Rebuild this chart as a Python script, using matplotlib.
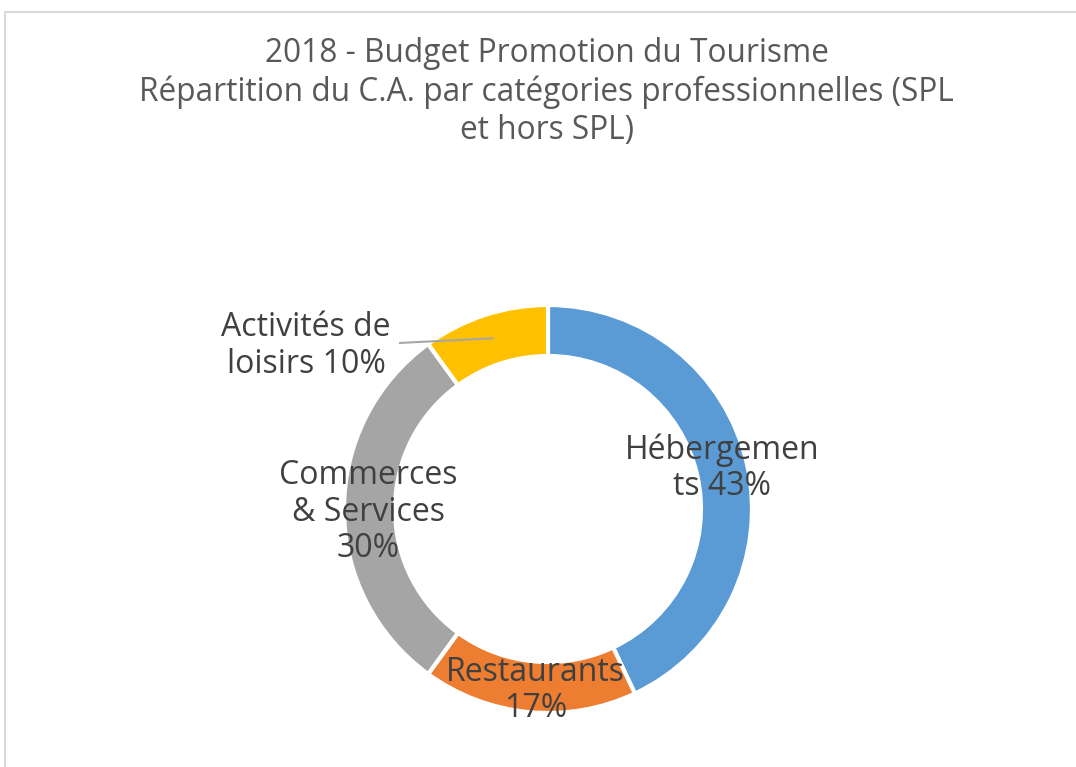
import numpy as np
import matplotlib.pyplot as plt
from matplotlib.patches import Rectangle

# Données
categories = ["Hébergements", "Restaurants", "Commerces & Services", "Activités de loisirs"]
shares = [43, 17, 30, 10]
label_texts = ["Hébergemen\nts 43%", "Restaurants\n17%", "Commerces\n& Services\n30%", "Activités de\nloisirs 10%"]
colors = ["#5B9BD5", "#ED7D31", "#A5A5A5", "#FFC000"]

title = "2018 - Budget Promotion du Tourisme\nRépartition du C.A. par catégories professionnelles (SPL\net hors SPL)"

plt.rcParams["font.family"] = ["Open Sans", "DejaVu Sans"]

W, H = 1076, 767
fig = plt.figure(figsize=(W / 100, H / 100), dpi=100)

# cadre du graphique
fig.patches.append(Rectangle((5 / W, -0.1), 1.2, (H - 12) / H + 0.1, transform=fig.transFigure,
                             fill=False, edgecolor="#D9D9D9", linewidth=1.5))

cx, cy, r = 548, 509, 204
ax = fig.add_axes([(cx - r) / W, (H - cy - r) / H, 2 * r / W, 2 * r / H])
wedges, _ = ax.pie(shares, colors=colors, startangle=90, counterclock=False,
                   radius=1.0, wedgeprops=dict(width=0.25, edgecolor="white", linewidth=3))
ax.set_xlim(-1, 1)
ax.set_ylim(-1, 1)
ax.set_aspect("equal")
ax.axis("off")

# positions des étiquettes (unités du rayon)
label_pos = [(0.853, 0.20), (-0.06, -0.89), (-0.88, -0.015), (-1.186, 0.80)]
for txt, (lx, ly) in zip(label_texts, label_pos):
    ax.text(lx, ly, txt, ha="center", va="center", fontsize=23, color="#404040",
            linespacing=1.15, clip_on=False)

# ligne de rappel pour "Activités de loisirs"
w = wedges[3]
mid = np.deg2rad((w.theta1 + w.theta2) / 2)
ax.plot([-0.725, 0.88 * np.cos(mid)], [0.814, 0.88 * np.sin(mid)], color="#A6A6A6",
        linewidth=1.5, clip_on=False)

fig.text(0.508, 1 - 92 / H, title, ha="center", va="center", fontsize=22.8, color="#595959",
         linespacing=1.22)

fig.savefig("out.png", dpi=100)
